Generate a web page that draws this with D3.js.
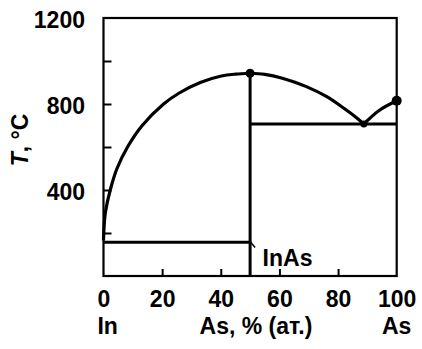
<!DOCTYPE html>
<html><head><meta charset="utf-8">
<script src="https://cdn.jsdelivr.net/npm/d3@7"></script>
<style>body{margin:0;background:#fff}svg{display:block}text{font-family:"Liberation Sans",Arial,sans-serif;font-weight:bold;fill:#000}</style>
</head><body>
<svg id="c" width="422" height="349"></svg>
<script>
// Data (composition As, at.%; temperature °C)
const liquidusLeft = [[0,165],[0.3,250],[0.7,300],[2.3,400],[4.6,500],[8.2,600],[13.2,700],[20.5,800],[25.7,850],[33,900],[40.2,930],[45,939],[50,943]];
const liquidusRight = [[50,943],[55,938],[61,920],[69,882],[76,835],[82,780],[86.5,734],[88.8,707]];
const liquidusAs = [[88.8,707],[94,770],[100,815]];
const eutecticLeft = [[0,157],[50,157]];
const eutecticRight = [[50,707],[100,707]];
const compound = [[50,943],[50,0]];
const points = [[50,943,4.5],[100,815,5],[88.8,707,3.5]];
const xTickLabels = [0,20,40,60,80,100];
const xTickMarks = [20,40,60,80];
const yTickLabels = [400,800,1200];
const yTickMarks = [200,400,600,800,1000];
const bottomNames = [[1.4,"In"],[52,"As, % (ат.)"],[100,"As"]];
const compoundName = "InAs";

const FS = 23;
const svg = d3.select("#c");
const x = d3.scaleLinear().domain([0,100]).range([103.5,396.7]);
const y = d3.scaleLinear().domain([0,1200]).range([276,18]);

// frame
svg.append("rect").attr("x",x(0)).attr("y",y(1200)).attr("width",x(100)-x(0)).attr("height",y(0)-y(1200))
  .attr("fill","none").attr("stroke","#000").attr("stroke-width",2.2);

// tick marks (inward)
const gxm = svg.append("g").attr("transform",`translate(0,${y(0)})`)
  .call(d3.axisBottom(x).tickValues(xTickMarks).tickSizeInner(-7).tickSizeOuter(0).tickFormat(""));
const gym = svg.append("g").attr("transform",`translate(${x(0)},0)`)
  .call(d3.axisLeft(y).tickValues(yTickMarks).tickSizeInner(-8).tickSizeOuter(0).tickFormat(""));
[gxm,gym].forEach(g=>{g.select(".domain").remove();g.selectAll("line").attr("stroke","#000").attr("stroke-width",2);});

// tick labels
const gxl = svg.append("g").attr("transform",`translate(0,${y(0)})`)
  .call(d3.axisBottom(x).tickValues(xTickLabels).tickSize(0).tickPadding(15).tickFormat(d3.format("d")));
const gyl = svg.append("g").attr("transform",`translate(${x(0)},0)`)
  .call(d3.axisLeft(y).tickValues(yTickLabels).tickSize(0).tickPadding(18.5).tickFormat(d3.format("d")));
[gxl,gyl].forEach(g=>{g.select(".domain").remove();g.selectAll("text").attr("font-size",FS).attr("font-family","Liberation Sans, Arial, sans-serif").attr("font-weight","bold");});
gyl.selectAll("text").attr("dy","0.42em");

// lines
const line = d3.line().x(d=>x(d[0])).y(d=>y(d[1]));
const curve = d3.line().x(d=>x(d[0])).y(d=>y(d[1])).curve(d3.curveCatmullRom.alpha(0.5));
[liquidusLeft,liquidusRight,liquidusAs].forEach(d=>svg.append("path").attr("d",curve(d)).attr("fill","none").attr("stroke","#000").attr("stroke-width",3.2).attr("stroke-linejoin","round"));
[eutecticLeft,eutecticRight,compound].forEach(d=>svg.append("path").attr("d",line(d)).attr("fill","none").attr("stroke","#000").attr("stroke-width",3));

svg.selectAll("circle.p").data(points).enter().append("circle")
  .attr("cx",d=>x(d[0])).attr("cy",d=>y(d[1])).attr("r",d=>d[2]).attr("fill","#000");

// InAs label with leader
svg.append("path").attr("d",`M${x(50)},${y(160)} L${x(50)+5},${y(160)+6}`).attr("stroke","#000").attr("stroke-width",1.5).attr("fill","none");
svg.append("text").attr("x",x(50)+12.5).attr("y",265.5).attr("font-size",FS).text(compoundName);

// bottom names
svg.selectAll("text.bn").data(bottomNames).enter().append("text")
  .attr("x",d=>x(d[0])).attr("y",334).attr("text-anchor","middle").attr("font-size",FS).text(d=>d[1]);

// y title
const yt = svg.append("text").attr("transform","translate(28,140) rotate(-90)").attr("text-anchor","middle").attr("font-size",FS);
yt.append("tspan").attr("font-style","italic").text("T");
yt.append("tspan").text(", °C");
</script>
</body></html>
